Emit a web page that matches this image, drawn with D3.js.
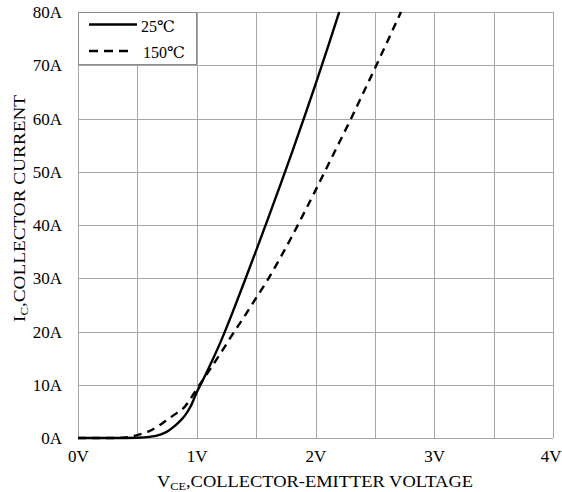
<!DOCTYPE html>
<html><head><meta charset="utf-8">
<script src="https://cdn.jsdelivr.net/npm/d3@7"></script>
<style>body{margin:0;background:#fff}svg{display:block}svg text{font-family:"Liberation Serif","Tinos","Times New Roman","DejaVu Serif",serif !important;fill:#000}</style>
</head><body><svg id="c" width="562" height="492"></svg>
<script>
const xTicks = [0, 0.5, 1, 1.5, 2, 2.5, 3, 3.5, 4];
const xTickLabels = ["0V", "", "1V", "", "2V", "", "3V", "", "4V"];
const yTicks = [0, 10, 20, 30, 40, 50, 60, 70, 80];
const yTickLabels = ["0A", "10A", "20A", "30A", "40A", "50A", "60A", "70A", "80A"];
const seriesNames = ["25℃", "150℃"];
const v25 = [0, 0.3, 0.5, 0.6, 0.7, 0.75, 0.8, 0.85, 0.9, 0.95, 1.0, 1.05, 1.1, 1.2, 1.3, 1.4, 1.5, 1.6, 1.7, 1.8, 1.9, 2.0, 2.1, 2.2];
const i25 = [0, 0, 0.05, 0.2, 0.7, 1.2, 2.0, 3.0, 4.2, 6.0, 8.6, 10.8, 13.1, 18.0, 23.5, 29.3, 35.2, 41.2, 47.3, 53.5, 59.9, 66.4, 73.1, 80];
const v150 = [0, 0.3, 0.4, 0.5, 0.6, 0.7, 0.75, 0.8, 0.9, 1.0, 1.1, 1.2, 1.3, 1.4, 1.5, 1.6, 1.7, 1.8, 1.9, 2.0, 2.1, 2.2, 2.3, 2.4, 2.5, 2.6, 2.72];
const i150 = [0, 0, 0.1, 0.55, 1.3, 2.6, 3.4, 4.2, 5.9, 9.2, 12.5, 15.9, 19.4, 22.8, 26.3, 29.8, 33.7, 37.8, 42.1, 46.5, 51.0, 55.5, 60.0, 64.7, 69.4, 74.2, 80];

const svg = d3.select("#c");
const L = 78, R = 553, T = 12, B = 438;
const x = d3.scaleLinear().domain([0, 4]).range([L, R]);
const y = d3.scaleLinear().domain([0, 80]).range([B, T]);
const FONT = '"Liberation Serif","Tinos","Times New Roman","DejaVu Serif",serif';

// grid
const g = svg.append("g");
g.selectAll("line.v").data(xTicks).join("line")
  .attr("x1", d => Math.round(x(d)) + 0.5).attr("x2", d => Math.round(x(d)) + 0.5)
  .attr("y1", T).attr("y2", B).attr("stroke", "#a6a6a6").attr("stroke-width", 1);
g.selectAll("line.h").data(yTicks).join("line")
  .attr("y1", d => Math.round(y(d)) + 0.5).attr("y2", d => Math.round(y(d)) + 0.5)
  .attr("x1", L).attr("x2", R).attr("stroke", "#a6a6a6").attr("stroke-width", 1);

// axes labels via d3 axes (no domain/tick lines)
const xAxis = d3.axisBottom(x).tickValues(xTicks).tickSize(0).tickPadding(0)
  .tickFormat((d, i) => xTickLabels[i]);
const xa = svg.append("g").attr("transform", `translate(0,${B + 24})`).call(xAxis)
  .attr("font-family", FONT).attr("font-size", 17);
xa.select(".domain").remove();
xa.selectAll("text").attr("dy", 0);
// keep the last label inside the window
xa.selectAll("text").filter(d => d === 4).attr("text-anchor", "end").attr("x", 561 - x(4));

const yAxis = d3.axisLeft(y).tickValues(yTicks).tickSize(0).tickPadding(0)
  .tickFormat((d, i) => yTickLabels[i]);
const ya = svg.append("g").attr("transform", `translate(${L - 16},0)`).call(yAxis)
  .attr("font-family", FONT).attr("font-size", 17);
ya.select(".domain").remove();
ya.selectAll("text").attr("dy", "0.33em");

// lines
const line = d3.line().x(d => x(d[0])).y(d => y(d[1])).curve(d3.curveMonotoneX);
const d25 = v25.map((v, i) => [v, i25[i]]);
const d150 = v150.map((v, i) => [v, i150[i]]);
svg.append("path").attr("d", line(d150)).attr("fill", "none").attr("stroke", "#000")
  .attr("stroke-width", 2.4).attr("stroke-dasharray", "8,6");
svg.append("path").attr("d", line(d25)).attr("fill", "none").attr("stroke", "#000")
  .attr("stroke-width", 2.4);

// legend
const lg = svg.append("g").attr("font-family", FONT);
lg.append("rect").attr("x", L + 0.5).attr("y", T + 0.5).attr("width", 118).attr("height", 52)
  .attr("fill", "#fff").attr("stroke", "#8c8c8c");
lg.append("line").attr("x1", 89).attr("x2", 137).attr("y1", 24.5).attr("y2", 24.5)
  .attr("stroke", "#000").attr("stroke-width", 2.4);
lg.append("line").attr("x1", 89).attr("x2", 128).attr("y1", 51).attr("y2", 51)
  .attr("stroke", "#000").attr("stroke-width", 2.4).attr("stroke-dasharray", "9,6");
lg.append("text").attr("x", 141).attr("y", 31.5).attr("font-size", 16).text(seriesNames[0]);
lg.append("text").attr("x", 143).attr("y", 57.5).attr("font-size", 16).text(seriesNames[1]);

// axis titles
const xt = svg.append("text").attr("x", 157).attr("y", 487)
  .attr("font-size", 16.5).attr("font-family", FONT)
  .attr("textLength", 316).attr("lengthAdjust", "spacingAndGlyphs");
xt.append("tspan").text("V");
xt.append("tspan").attr("font-size", 11).attr("dy", 3).text("CE");
xt.append("tspan").attr("dy", -3).text(",COLLECTOR-EMITTER VOLTAGE");

const yt = svg.append("text").attr("transform", "translate(25,322) rotate(-90)")
  .attr("font-size", 16.5).attr("font-family", FONT)
  .attr("textLength", 227).attr("lengthAdjust", "spacingAndGlyphs");
yt.append("tspan").text("I");
yt.append("tspan").attr("font-size", 11).attr("dy", 3).text("C");
yt.append("tspan").attr("dy", -3).text(",COLLECTOR CURRENT");
</script></body></html>
